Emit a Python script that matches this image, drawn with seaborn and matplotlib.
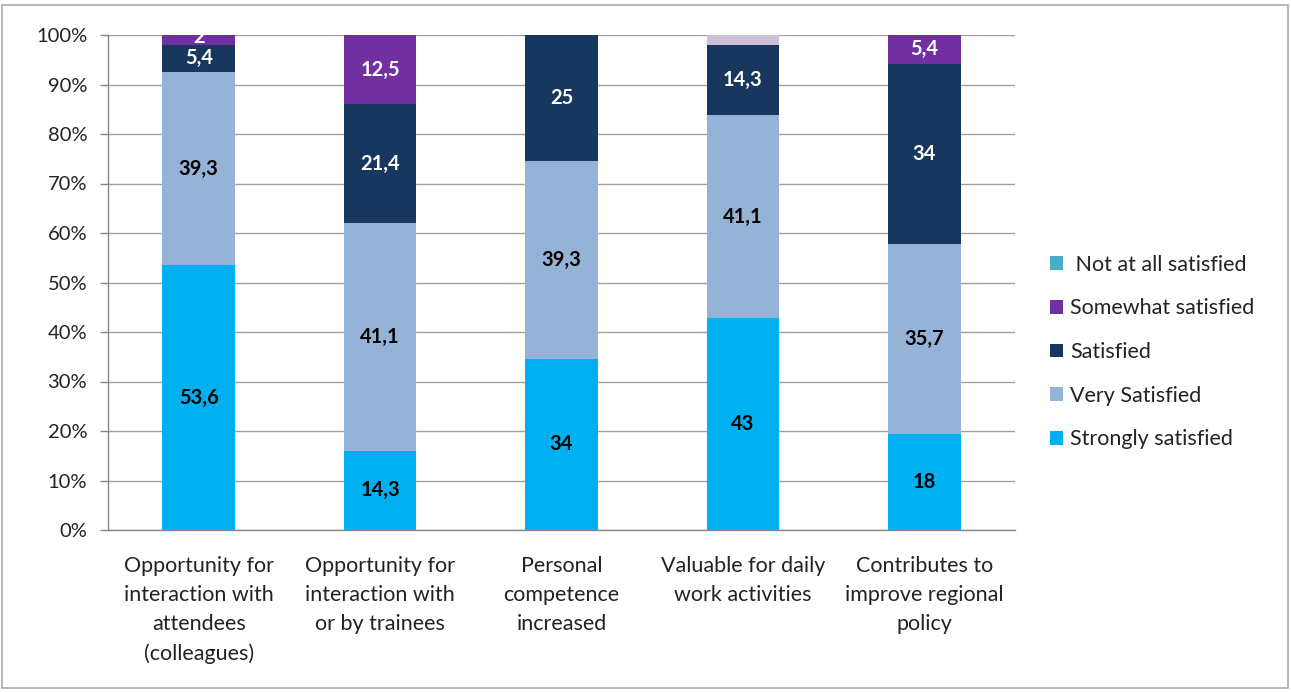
import matplotlib
matplotlib.use("Agg")
import matplotlib.pyplot as plt
import matplotlib.patches as mpatches
import seaborn as sns
import numpy as np
import pandas as pd

categories = [
    "Opportunity for\ninteraction with\nattendees\n(colleagues)",
    "Opportunity for\ninteraction with\nor by trainees",
    "Personal\ncompetence\nincreased",
    "Valuable for daily\nwork activities",
    "Contributes to\nimprove regional\npolicy",
]
strongly = [53.6, 14.3, 34, 43, 18]
very = [39.3, 41.1, 39.3, 41.1, 35.7]
satisfied = [5.4, 21.4, 25, 14.3, 34]
somewhat = [2, 12.5, 0, 2, 5.4]
not_at_all = [0, 0, 0, 0, 0]
somewhat_labels = ["2", "12,5", "", "", "5,4"]

series_names = ["Strongly satisfied", "Very Satisfied", "Satisfied",
                "Somewhat satisfied", " Not at all satisfied"]
series_vals = [strongly, very, satisfied, somewhat, not_at_all]
colors = ["#00b0f0", "#95b3d7", "#17375e", "#7030a0", "#4bacc6"]
label_colors = ["black", "black", "white", "white", "white"]

sns.set_theme(style="white")
plt.rcParams["font.family"] = ["Lato", "DejaVu Sans"]

vals = np.array(series_vals, dtype=float)
totals = vals.sum(axis=0)
pct = vals / totals * 100
cum = np.cumsum(pct, axis=0)

fig = plt.figure(figsize=(12.91, 6.92), dpi=100)
ax = fig.add_axes([108 / 1291, (692 - 530) / 692, (1015 - 108) / 1291, (530 - 35) / 692])

# draw from top layer to bottom so each later one covers the one below
for i in range(len(series_names) - 1, -1, -1):
    df = pd.DataFrame({"cat": categories, "val": cum[i]})
    sns.barplot(data=df, x="cat", y="val", color=colors[i], width=0.4,
                saturation=1, ax=ax, errorbar=None, zorder=3, linewidth=0)

n = len(categories)
# the small top segment of bar 4 is shown in lavender in the reference
somewhat_patches = ax.patches[n:2 * n]
somewhat_patches[3].set_facecolor("#ccc0da")

# labels
for i, name in enumerate(series_names):
    for j in range(n):
        if vals[i, j] <= 0:
            continue
        if i == 3:
            txt = somewhat_labels[j]
        else:
            txt = (f"{vals[i, j]:g}").replace(".", ",")
        if not txt:
            continue
        y = cum[i, j] - pct[i, j] / 2
        if i == 3 and j == 0:
            y = 99.6
        ax.text(j, y, txt, ha="center", va="center", color=label_colors[i],
                fontsize=14.5, fontweight="bold", zorder=5, clip_on=(i == 3 and j == 0))

ax.set_ylim(0, 100)
ax.set_xlim(-0.5, n - 0.5)
ax.set_yticks(np.arange(0, 101, 10))
ax.set_yticklabels([f"{t}%" for t in range(0, 101, 10)], fontsize=14.5, color="#222222")
ax.set_xlabel("")
ax.set_ylabel("")
ax.set_xticks(range(n))
ax.set_xticklabels(categories, fontsize=15.5, color="#222222", linespacing=1.55)
ax.tick_params(axis="x", which="major", length=0, pad=19)
ax.set_xticks(np.arange(-0.5, n, 1), minor=True)
ax.tick_params(axis="x", which="minor", length=8, color="#888888", width=1, direction="out")
ax.tick_params(axis="y", which="major", length=6, color="#888888", width=1, direction="out",
               left=True, pad=9)

ax.yaxis.grid(True, color="#a0a0a0", linewidth=1, zorder=0)
ax.xaxis.grid(False)
ax.set_axisbelow(True)
for s in ["top", "right"]:
    ax.spines[s].set_visible(False)
for s in ["left", "bottom"]:
    ax.spines[s].set_visible(True)
    ax.spines[s].set_color("#888888")
    ax.spines[s].set_linewidth(1)

# legend (reversed order)
handles = [mpatches.Patch(facecolor=colors[i], edgecolor="none", label=series_names[i])
           for i in range(len(series_names) - 1, -1, -1)]
leg = fig.legend(handles=handles, loc="center left",
                 bbox_to_anchor=(1050 / 1291, (692 - 352) / 692),
                 frameon=False, fontsize=15.5, handlelength=0.6, handleheight=0.6,
                 handletextpad=0.35, labelspacing=1.1, labelcolor="#222222",
                 borderaxespad=0, borderpad=0)

# figure border
fig.patches.append(mpatches.Rectangle((2 / 1291, 4 / 692), 1286 / 1291, 683 / 692,
                                      transform=fig.transFigure, fill=False,
                                      edgecolor="#aaaaaa", linewidth=1.2))

fig.savefig("out.png", dpi=100, facecolor="white")
